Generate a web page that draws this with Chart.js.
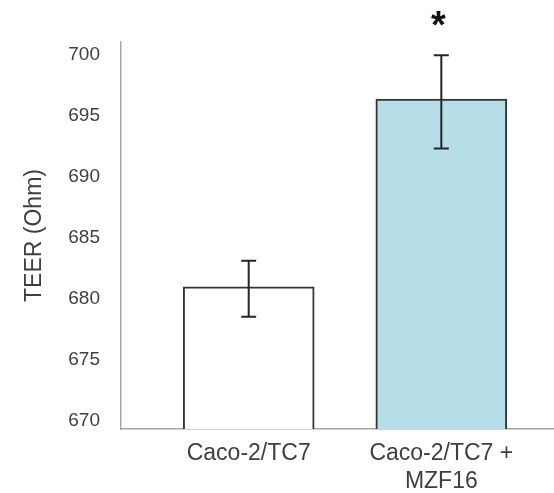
<!DOCTYPE html>
<html><head><meta charset="utf-8">
<script src="https://cdn.jsdelivr.net/npm/chart.js@4"></script>
<style>html,body{margin:0;padding:0;background:#fff}</style>
</head><body>
<canvas id="c" width="554" height="493" style="display:block;width:554px;height:493px"></canvas>
<script>
const categories = [['Caco-2/TC7'], ['Caco-2/TC7 +', 'MZF16']];
const teerValues = [681.0, 696.4];
const teerErrorPlus = [2.13, 3.58];
const teerErrorMinus = [2.46, 4.07];
const significance = ['', '*'];
const yTickValues = [670, 675, 680, 685, 690, 695, 700];
const barColors = ['#ffffff', '#b7dde8'];

const FONT = "'Liberation Sans', Arial, sans-serif";

const errorBarPlugin = {
  id: 'errorBars',
  afterDatasetsDraw(chart) {
    const ctx = chart.ctx;
    const xs = chart.scales.x, ys = chart.scales.y;
    ctx.save();
    ctx.strokeStyle = '#262626';
    ctx.lineWidth = 2;
    teerValues.forEach((v, i) => {
      const x = xs.getPixelForValue(i + 1);
      const yt = ys.getPixelForValue(v + teerErrorPlus[i]);
      const yb = ys.getPixelForValue(v - teerErrorMinus[i]);
      ctx.beginPath();
      ctx.moveTo(x, yt); ctx.lineTo(x, yb);
      ctx.moveTo(x - 7.5, yt); ctx.lineTo(x + 7.5, yt);
      ctx.moveTo(x - 7.5, yb); ctx.lineTo(x + 7.5, yb);
      ctx.stroke();
      if (significance[i]) {
        ctx.fillStyle = '#111';
        ctx.font = 'bold 38px ' + FONT;
        ctx.textAlign = 'center';
        ctx.textBaseline = 'alphabetic';
        ctx.fillText(significance[i], x - 3, yt - 17);
      }
    });
    ctx.restore();
  }
};

new Chart(document.getElementById('c'), {
  type: 'bar',
  data: {
    datasets: [{
      data: teerValues.map((v, i) => ({ x: i + 1, y: v })),
      backgroundColor: barColors,
      borderColor: '#333333',
      borderWidth: 2,
      borderSkipped: false,
      barThickness: 131
    }]
  },
  options: {
    responsive: false,
    animation: false,
    layout: { padding: { top: 42, right: 0, left: 0, bottom: 0 } },
    plugins: { legend: { display: false }, tooltip: { enabled: false } },
    scales: {
      x: {
        type: 'linear',
        offset: false,
        min: 0.337,
        max: 2.585,
        grid: { display: false, drawTicks: false, offset: false },
        border: { display: true, color: '#a6a6a6', width: 1.5 },
        afterBuildTicks: (s) => { s.ticks = categories.map((c, i) => ({ value: i + 1 })); },
        afterFit: (s) => { s.height = 64; },
        ticks: {
          autoSkip: false,
          maxRotation: 0,
          padding: 11,
          color: '#404040',
          font: { family: FONT, size: 23 },
          callback: (v) => categories[Math.round(v) - 1]
        }
      },
      y: {
        min: 669.34,
        max: 701.07,
        grid: { display: false, drawTicks: false },
        border: { display: true, color: '#a6a6a6', width: 1.5 },
        afterBuildTicks: (s) => { s.ticks = yTickValues.map(v => ({ value: v })); },
        afterFit: (s) => { s.width = 121; },
        ticks: {
          padding: 21,
          color: '#404040',
          font: { family: FONT, size: 19 }
        },
        title: {
          display: true,
          text: 'TEER (Ohm)',
          color: '#404040',
          font: { family: FONT, size: 23 },
          padding: { top: 21, bottom: 0 }
        }
      }
    }
  },
  plugins: [errorBarPlugin]
});
</script>
</body></html>
